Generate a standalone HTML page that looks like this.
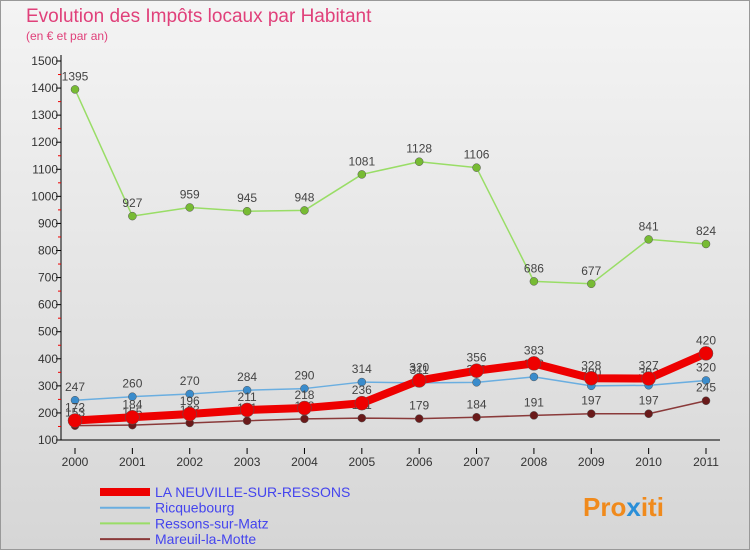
<!DOCTYPE html>
<html><head><meta charset="utf-8"><style>
body{margin:0;width:750px;height:550px;overflow:hidden;font-family:"Liberation Sans",sans-serif}
svg text{font-family:"Liberation Sans",sans-serif}
</style></head><body>
<svg id="c" width="750" height="550" xmlns="http://www.w3.org/2000/svg">
<defs><linearGradient id="bg" x1="0" y1="0" x2="0" y2="1"><stop offset="0" stop-color="#f4f4f4"/><stop offset="1" stop-color="#d6d6d6"/></linearGradient></defs>
<rect x="0.5" y="0.5" width="749" height="549" fill="url(#bg)" stroke="#999"/>
<text x="26" y="22" font-size="19" fill="#e0407a">Evolution des Impôts locaux par Habitant</text>
<text x="26" y="40" font-size="12" fill="#e0407a">(en € et par an)</text>
<g id="axes"></g><g id="series"></g><g id="legend"></g>
<text x="583" y="516" font-size="26" font-weight="bold" fill="#f08a1c">Pro<tspan fill="#2a8fd8">x</tspan>iti</text>
</svg>
<script>
const years=[2000,2001,2002,2003,2004,2005,2006,2007,2008,2009,2010,2011];
const yTicks=[100,200,300,400,500,600,700,800,900,1000,1100,1200,1300,1400,1500];
const neuville=[172,184,196,211,218,236,320,356,383,328,327,420];
const ricquebourg=[247,260,270,284,290,314,311,313,333,300,302,320];
const ressons=[1395,927,959,945,948,1081,1128,1106,686,677,841,824];
const mareuil=[153,155,163,171,178,181,179,184,191,197,197,245];
const names=["LA NEUVILLE-SUR-RESSONS","Ricquebourg","Ressons-sur-Matz","Mareuil-la-Motte"];
const NS="http://www.w3.org/2000/svg";
const X=i=>75+i*(706-75)/11;
const Y=v=>440-(v-100)*(379/1400);
function mk(t,a,p){const e=document.createElementNS(NS,t);for(const k in a)e.setAttribute(k,a[k]);p.appendChild(e);return e;}
const ax=document.getElementById('axes');
let l=mk('line',{x1:61,y1:55,x2:61,y2:440,stroke:'#000'},ax);

l=mk('line',{x1:61,y1:440,x2:720,y2:440,stroke:'#000'},ax);

yTicks.forEach((v,i)=>{mk('line',{x1:56,y1:Y(v),x2:61,y2:Y(v),stroke:'#000'},ax);
 if(i<yTicks.length-1)mk('line',{x1:58,y1:Y(v+50),x2:61,y2:Y(v+50),stroke:'#e00'},ax);
 const t=mk('text',{x:58,y:Y(v)+4,'font-size':12,'text-anchor':'end',fill:'#333'},ax);t.textContent=v;
 });
years.forEach((y,i)=>{mk('line',{x1:X(i),y1:448,x2:X(i),y2:454,stroke:'#000'},ax);
 const t=mk('text',{x:X(i),y:466,'font-size':12,'text-anchor':'middle',fill:'#333'},ax);t.textContent=y;
 });
const sg=document.getElementById('series');
const S=[[ressons,'#99dd66','#77bb33',1.5,4,'ressons'],[ricquebourg,'#6aaee0','#3a8ccc',1.5,4,'ricquebourg'],[mareuil,'#8a3a3a','#6a1a1a',1.5,4,'mareuil'],[neuville,'#ee0000','#ee0000',8,7,'neuville']];
S.forEach(s=>{const g=mk('g',{},sg);
 const p=mk('polyline',{points:s[0].map((v,i)=>X(i)+','+Y(v)).join(' '),fill:'none',stroke:s[1],'stroke-width':s[3],'stroke-linejoin':'round'},g);
 
 s[0].forEach((v,i)=>{const c=mk('circle',{cx:X(i),cy:Y(v),r:s[4],fill:s[2],stroke:'#555','stroke-width':0.5},g);
  
  const t=mk('text',{x:X(i),y:Y(v)-9,'font-size':12,'text-anchor':'middle',fill:'#444'},g);t.textContent=v;
  });});
const lg=document.getElementById('legend');
const lc=['#ee0000','#6aaee0','#99dd66','#8a3a3a'],lw=[8,2,2,2];
names.forEach((n,i)=>{const y=492+i*15.7;
 const e=mk('line',{x1:100,y1:y,x2:150,y2:y,stroke:lc[i],'stroke-width':lw[i]},lg);
 
 const t=mk('text',{x:155,y:y+5,'font-size':14,fill:'#4444ee'},lg);t.textContent=n;
 });
</script>
</body></html>
